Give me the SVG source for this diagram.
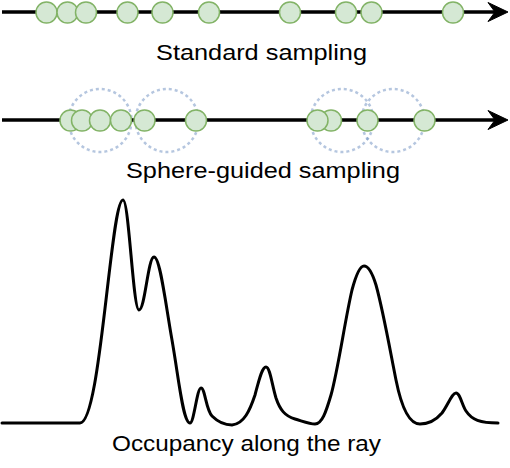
<svg xmlns="http://www.w3.org/2000/svg" width="510" height="468" viewBox="0 0 510 468">
<style>
.ray{stroke:#000;stroke-width:3.5;fill:none}
.head{fill:#000;stroke:#000;stroke-width:1;stroke-linejoin:miter}
.s{fill:#d5e8d4;stroke:#82b366;stroke-width:1.5}
.sph{fill:none;stroke:#6c8ebf;stroke-opacity:0.5;stroke-width:2.5;stroke-dasharray:3 3}
.lbl{font-family:"Liberation Sans",Arial,sans-serif;font-size:22px;fill:#000}
.curve{fill:none;stroke:#000;stroke-width:3;stroke-linejoin:round;stroke-linecap:round}
</style>
<rect width="510" height="468" fill="#fff"/>
<g id="connectors">
  <g id="ray-standard">
    <line class="ray" x1="2" y1="12" x2="496" y2="12"/>
    <polygon class="head" points="508,12 488,2.5 495,12 488,21.5"/>
  </g>
  <g id="spheres">
    <circle class="sph" cx="100" cy="120.5" r="31.5"/>
    <circle class="sph" cx="167" cy="120.5" r="31.5"/>
    <circle class="sph" cx="342" cy="120.5" r="31.5"/>
    <circle class="sph" cx="393" cy="120.5" r="31.5"/>
  </g>
  <g id="ray-sphere">
    <line class="ray" x1="2" y1="120" x2="496" y2="120"/>
    <polygon class="head" points="508,120 488,110.5 495,120 488,129.5"/>
  </g>
</g>
<g id="standard-samples">
  <circle class="s" cx="46.5" cy="12.5" r="10.5"/>
  <circle class="s" cx="67.5" cy="12.5" r="10.5"/>
  <circle class="s" cx="86" cy="12.5" r="10.5"/>
  <circle class="s" cx="127.5" cy="12.5" r="10.5"/>
  <circle class="s" cx="162.5" cy="12.5" r="10.5"/>
  <circle class="s" cx="209" cy="12.5" r="10.5"/>
  <circle class="s" cx="290" cy="12.5" r="10.5"/>
  <circle class="s" cx="346" cy="12.5" r="10.5"/>
  <circle class="s" cx="371.5" cy="12.5" r="10.5"/>
  <circle class="s" cx="453" cy="12.5" r="10.5"/>
</g>
<g id="sphere-samples">
  <circle class="s" cx="70.5" cy="120.5" r="10.5"/>
  <circle class="s" cx="82" cy="120.5" r="10.5"/>
  <circle class="s" cx="100" cy="120.5" r="10.5"/>
  <circle class="s" cx="121" cy="120.5" r="10.5"/>
  <circle class="s" cx="144.5" cy="120.5" r="10.5"/>
  <circle class="s" cx="196" cy="120.5" r="10.5"/>
  <circle class="s" cx="331" cy="120.5" r="10.5"/>
  <circle class="s" cx="317.5" cy="120.5" r="10.5"/>
  <circle class="s" cx="367.5" cy="120.5" r="10.5"/>
  <circle class="s" cx="424.5" cy="120.5" r="10.5"/>
</g>
<g id="label-standard">
  <text class="lbl" x="156" y="60" textLength="211" lengthAdjust="spacingAndGlyphs">Standard sampling</text>
</g>
<g id="label-sphere">
  <text class="lbl" x="126" y="178" textLength="274" lengthAdjust="spacingAndGlyphs">Sphere-guided sampling</text>
</g>
<g id="occupancy">
  <path class="curve" d="M2,423 H80 C92,423 100,350 106,300 C112,250 117,200 123,200 C129,200 133,310 139,310 C145,310 148,257 154,257 C160,257 165,300 172,340 C179,380 183,423 190,423 C194,423 197,388 201,388 C205,388 206,410 212,416 C218,422 225,425 232,425 C244,424 250,410 255,395 C259,380 262,367 266,367 C270,367 272,385 276,398 C280,410 285,416 295,419 C305,422 310,424 315,424 C322,424 326,412 331,395 C338,370 345,320 352,290 C356,275 360,266 364,266 C368,266 372,272 376,285 C383,310 390,350 396,380 C401,405 408,424 420,424 C430,424 436,420 442,413 C448,405 452,393 456,393 C460,393 462,405 466,411 C472,420 480,423 498,423"/>
</g>
<g id="label-occupancy">
  <text class="lbl" x="112" y="451" textLength="269" lengthAdjust="spacingAndGlyphs">Occupancy along the ray</text>
</g>
</svg>
